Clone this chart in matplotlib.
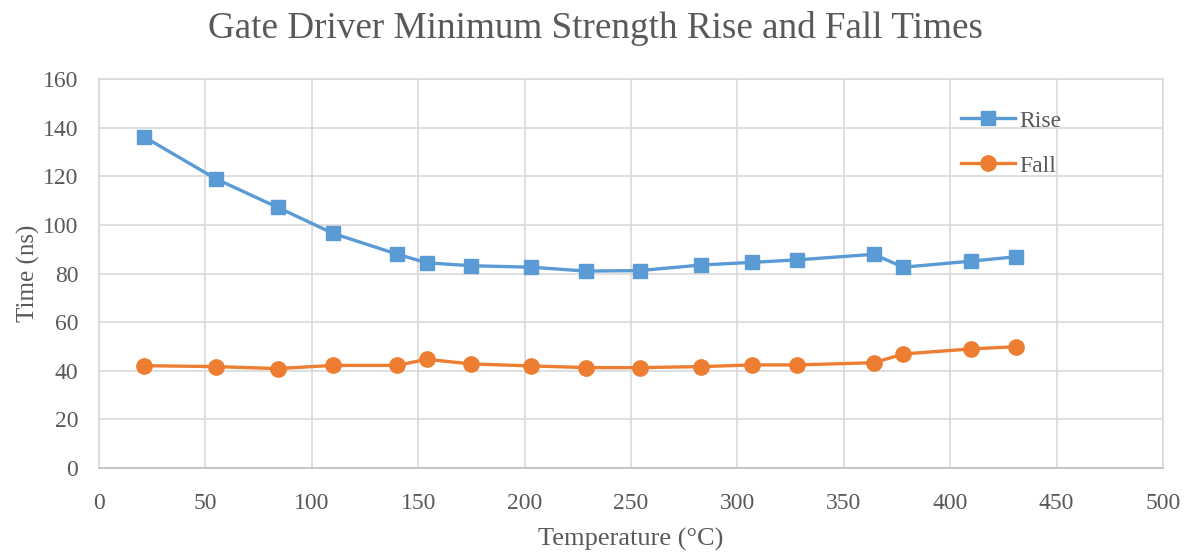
import matplotlib.pyplot as plt

temps_rise = [21, 55, 84, 110, 140, 154, 175, 203, 229, 254, 283, 307, 328, 364, 378, 410, 431]
rise = [136.3, 118.9, 107.2, 96.5, 88.0, 84.4, 83.2, 82.6, 81.0, 81.2, 83.5, 84.6, 85.6, 87.9, 82.6, 85.1, 86.9]
temps_fall = [21, 55, 84, 110, 140, 154, 175, 203, 229, 254, 283, 307, 328, 364, 378, 410, 431]
fall = [42.1, 41.7, 40.9, 42.2, 42.2, 44.7, 42.8, 42.0, 41.3, 41.3, 41.7, 42.4, 42.4, 43.3, 46.9, 49.0, 49.9]

plt.rcParams['font.family'] = ['Liberation Serif', 'DejaVu Serif']
gray = "#595959"

fig = plt.figure(figsize=(11.91, 5.53), dpi=100)
ax = fig.add_axes([0.0831, 0.1537, 0.8934, 0.7034])

ax.plot(temps_rise, rise, c="#5B9BD5", lw=2.4, marker="s", ms=10, label="Rise")
ax.plot(temps_fall, fall, c="#ED7D31", lw=2.4, marker="o", ms=11, label="Fall")

ax.set_xlim(0, 500)
ax.set_ylim(0, 160)
ax.set_xticks(range(0, 501, 50))
ax.set_yticks(range(0, 161, 20))
ax.grid(True, color="#D9D9D9", lw=1.2)
ax.set_axisbelow(True)
for s in ax.spines.values():
	s.set_color("#D9D9D9")
	s.set_linewidth(1.2)
ax.spines['bottom'].set_color("#BFBFBF")
ax.tick_params(length=0, labelsize=17, labelcolor=gray)
ax.tick_params(axis='x', pad=18)
ax.tick_params(axis='y', pad=15)

ax.set_xlabel("Temperature (°C)", fontsize=19, color=gray, labelpad=10)
ax.set_ylabel("Time (ns)", fontsize=18, color=gray, labelpad=2)
fig.suptitle("Gate Driver Minimum Strength Rise and Fall Times", fontsize=26.7, color=gray, y=0.98)

ax.legend(loc="upper left", bbox_to_anchor=(0.79, 0.975), frameon=False, fontsize=17,
	labelcolor=gray, handlelength=2.3, handletextpad=0.2, labelspacing=1.0)

fig.savefig("out.png")
